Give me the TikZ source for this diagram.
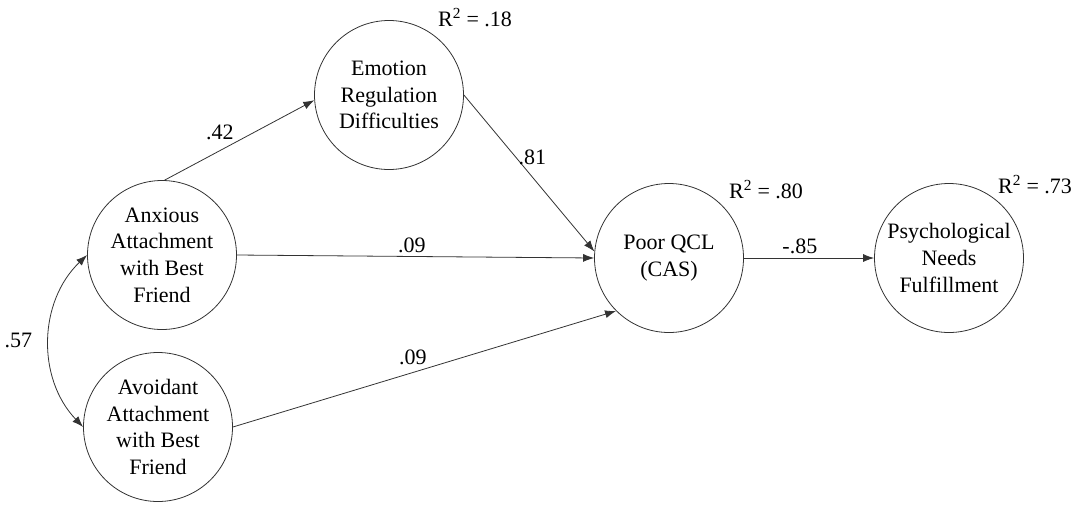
\documentclass[tikz,border=0pt]{standalone}
\usepackage{fontspec}
\setmainfont{Liberation Serif}
\usetikzlibrary{arrows.meta}

\begin{document}
\begin{tikzpicture}[x=1pt,y=-1pt,>={Latex[length=11pt,width=8pt]},
    lat/.style={draw=black!80,line width=0.8pt,circle,minimum size=149pt,inner sep=0pt,
        align=center,font=\fontsize{22}{26.7}\selectfont},
    coef/.style={inner sep=1pt,font=\fontsize{22}{26}\selectfont},
    link/.style={->,draw=black!80,line width=0.8pt}]
    \useasboundingbox (0,0) rectangle (1078,504);
    \node[lat] (anx) at (162,255) {Anxious\\Attachment\\with Best\\Friend};
    \node[lat] (avo) at (158,427) {Avoidant\\Attachment\\with Best\\Friend};
    \node[lat] (erd) at (389,95) {Emotion\\Regulation\\Difficulties};
    \node[lat] (qcl) at (669,258) {Poor QCL\\(CAS)};
    \node[lat] (pnf) at (949,258) {Psychological\\Needs\\Fulfillment};
    \node[coef,anchor=base west] (r1) at (437,26) {R\textsuperscript{2} = .18};
    \node[coef,anchor=base west] (r2) at (728,198) {R\textsuperscript{2} = .80};
    \node[coef,anchor=base west] (r3) at (997,193) {R\textsuperscript{2} = .73};
    \draw[link] (anx.88) --node[coef,pos=0.37,above=9pt]{.42} (erd.184);
    \draw[link] (erd.east) --node[coef,pos=0.40,right=1pt]{.81} (qcl.175);
    \draw[link] (anx.east) --node[coef,pos=0.49,above=2pt]{.09} (qcl.west);
    \draw[link] (avo.east) --node[coef,pos=0.47,above=6pt]{.09} (qcl.225);
    \draw[link] (qcl.east) --node[coef,pos=0.43,above=2.5pt]{-.85} (pnf.west);
    \draw[link,<->] (anx.west) to[bend right=45]node[coef,left=16pt]{.57} (avo.west);
\end{tikzpicture}
\end{document}
